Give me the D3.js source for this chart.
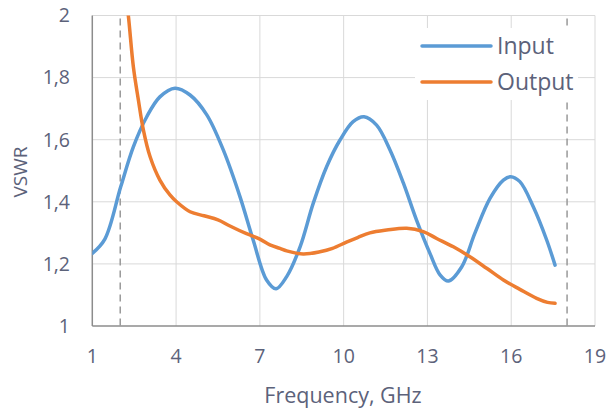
<!DOCTYPE html>
<html><head><meta charset="utf-8">
<script src="https://cdn.jsdelivr.net/npm/d3@7"></script>
<style>body{margin:0;background:#fff;}svg{display:block;font-family:"Open Sans",sans-serif;}</style>
</head><body><svg id="c" width="607" height="412"></svg>
<script>
const xTicks = [1,4,7,10,13,16,19];
const yTicks = [1,1.2,1.4,1.6,1.8,2];
const yTickLabels = ["1","1,2","1,4","1,6","1,8","2"];
const bandEdges = [2,18];
const inputFreq = [1,1.45,2.02,2.47,2.95,3.42,3.96,4.5,5.1,5.69,6.29,6.76,7.24,7.58,7.96,8.44,8.91,9.39,9.87,10.34,10.73,11.18,11.66,12.14,12.61,13.09,13.45,13.75,14.23,14.7,15.24,15.72,15.98,16.31,16.79,17.27,17.57];
const inputVswr = [1.234,1.28,1.449,1.577,1.674,1.738,1.766,1.744,1.68,1.567,1.416,1.277,1.148,1.12,1.159,1.255,1.395,1.513,1.599,1.658,1.674,1.647,1.567,1.46,1.341,1.234,1.165,1.145,1.191,1.299,1.411,1.47,1.481,1.465,1.384,1.277,1.196];
const outputFreq = [2.2,2.29,2.47,2.65,2.83,3.07,3.42,3.78,4.02,4.5,5.0,5.5,5.93,6.5,7.0,7.36,7.72,7.96,8.55,9.15,9.6,10.1,10.5,10.94,11.54,12.26,12.85,13.33,13.93,14.52,15.12,15.72,16.31,16.91,17.3,17.57];
const outputVswr = [2.06,2.0,1.835,1.728,1.631,1.545,1.47,1.422,1.40,1.368,1.355,1.342,1.322,1.298,1.28,1.261,1.25,1.242,1.232,1.239,1.25,1.27,1.285,1.3,1.309,1.315,1.304,1.282,1.255,1.223,1.186,1.148,1.118,1.089,1.076,1.073];
const seriesNames = ["Input","Output"];
const colors = ["#5b9bd5","#ed7d31"];

const svg = d3.select("#c");
const L=92.3, R=595, T=15.5, B=326;
const x = d3.scaleLinear().domain([1,19]).range([L,R]);
const y = d3.scaleLinear().domain([1,2]).range([B,T]);
const txt = "#5c627a";

const defs = svg.append("defs");
defs.append("clipPath").attr("id","clip").append("rect").attr("x",L).attr("y",T).attr("width",R-L).attr("height",B-T);

// grid
svg.append("g").selectAll("line").data(xTicks.slice(1)).join("line")
  .attr("x1",d=>x(d)).attr("x2",d=>x(d)).attr("y1",T).attr("y2",B)
  .attr("stroke","#d9d9d9").attr("stroke-width",1);
svg.append("g").selectAll("line").data(yTicks.slice(1)).join("line")
  .attr("x1",L).attr("x2",R).attr("y1",d=>y(d)).attr("y2",d=>y(d))
  .attr("stroke","#d9d9d9").attr("stroke-width",1);

// band edges
svg.append("g").selectAll("line").data(bandEdges).join("line")
  .attr("x1",d=>x(d)).attr("x2",d=>x(d)).attr("y1",T+3).attr("y2",B+3)
  .attr("stroke","#999").attr("stroke-width",1.5).attr("stroke-dasharray","7,5");

// axes lines
svg.append("line").attr("x1",L).attr("x2",L).attr("y1",T).attr("y2",B).attr("stroke","#8c8c8c").attr("stroke-width",1.5);
svg.append("line").attr("x1",L).attr("x2",R).attr("y1",B).attr("y2",B).attr("stroke","#8c8c8c").attr("stroke-width",1.5);

// tick labels
svg.append("g").selectAll("text").data(xTicks).join("text")
  .attr("x",d=>x(d)).attr("y",363).attr("text-anchor","middle")
  .attr("font-size",19.5).attr("fill",txt).text(d=>d);
svg.append("g").selectAll("text").data(yTicks).join("text")
  .attr("x",70).attr("y",d=>y(d)).attr("dy","0.35em").attr("text-anchor","end")
  .attr("font-size",19.5).attr("fill",txt).text((d,i)=>yTickLabels[i]);

svg.append("text").attr("x",343).attr("y",403).attr("text-anchor","middle")
  .attr("font-size",21.5).attr("fill",txt).text("Frequency, GHz");
svg.append("text").attr("transform","translate(27,172) rotate(-90)").attr("text-anchor","middle")
  .attr("font-size",19).attr("fill",txt).text("VSWR");

// legend bg
svg.append("rect").attr("x",415).attr("y",28).attr("width",163).attr("height",72).attr("fill","#fff");

// lines
const line = d3.line().x(d=>x(d[0])).y(d=>y(d[1])).curve(d3.curveCatmullRom.alpha(0.5));
const series = [d3.zip(inputFreq,inputVswr), d3.zip(outputFreq,outputVswr)];
svg.append("g").attr("clip-path","url(#clip)").selectAll("path").data(series).join("path")
  .attr("d",line).attr("fill","none").attr("stroke",(d,i)=>colors[i])
  .attr("stroke-width",3.5).attr("stroke-linejoin","round").attr("stroke-linecap","round");

// legend
const lg = svg.append("g").selectAll("g").data(seriesNames).join("g")
  .attr("transform",(d,i)=>`translate(0,${46+i*36})`);
lg.append("line").attr("x1",422).attr("x2",491).attr("stroke",(d,i)=>colors[i]).attr("stroke-width",3.5).attr("stroke-linecap","round");
lg.append("text").attr("x",497).attr("dy","0.35em").attr("font-size",23).attr("fill",txt).text(d=>d);
</script></body></html>
